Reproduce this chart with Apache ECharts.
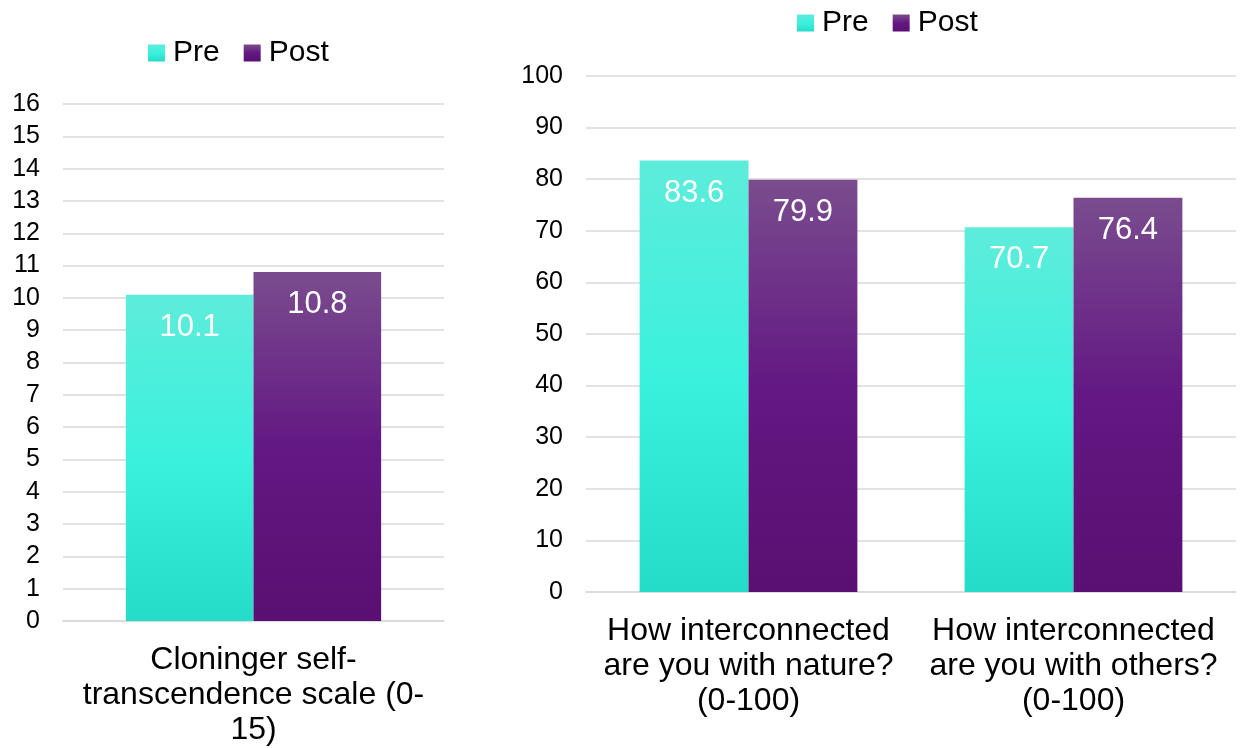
<!DOCTYPE html>
<html>
<head>
<meta charset="utf-8">
<script src="https://cdn.jsdelivr.net/npm/echarts@6/dist/echarts.min.js"></script>
<style>
  html, body { margin: 0; padding: 0; background: #ffffff; }
  #chart { width: 1243px; height: 748px; }
</style>
</head>
<body>
<div id="chart"></div>
<script>
// Left panel: Cloninger self-transcendence scale
const leftCategories = ['Cloninger self-\ntranscendence scale (0-\n15)'];
const leftPre = [10.1];
const leftPost = [10.8];

// Right panel: interconnectedness questions
const rightCategories = [
  'How interconnected\nare you with nature?\n(0-100)',
  'How interconnected\nare you with others?\n(0-100)'
];
const rightPre = [83.6, 70.7];
const rightPost = [79.9, 76.4];

const seriesNames = ['Pre', 'Post'];

const FONT = "'Liberation Sans', Arial, sans-serif";

function grad(stops) {
  return new echarts.graphic.LinearGradient(0, 0, 0, 1,
    stops.map(([o, c]) => ({ offset: o, color: c })));
}
const preFill = () => grad([[0, '#5eecdb'], [0.5, '#3af1dd'], [1, '#25dcc8']]);
const postFill = () => grad([[0, '#7a4c8e'], [0.5, '#631883'], [1, '#5a0f72']]);

const gridLine = { show: true, lineStyle: { color: '#d9d9d9', width: 1.5 } };

function valueAxis(gridIndex, max, interval) {
  return {
    type: 'value', gridIndex, min: 0, max, interval,
    axisLine: { show: false }, axisTick: { show: false },
    splitLine: gridLine,
    axisLabel: { color: '#000', fontSize: 25, fontFamily: FONT, margin: 23 }
  };
}
function catAxis(gridIndex, data) {
  return {
    type: 'category', gridIndex, data,
    axisLine: { show: true, lineStyle: { color: '#d9d9d9', width: 1.5 } },
    axisTick: { show: false },
    axisLabel: { color: '#000', fontSize: 32, fontFamily: FONT, margin: 22,
                 lineHeight: 35, interval: 0, align: 'center' }
  };
}
const valueLabel = {
  show: true, position: 'insideTop', distance: 17,
  color: '#ffffff', fontSize: 31, fontFamily: FONT,
  formatter: p => p.value.toFixed(1)
};
function bar(name, idx, data, fill) {
  return {
    name, type: 'bar', xAxisIndex: idx, yAxisIndex: idx, data,
    barGap: '0%', barCategoryGap: '33%',
    itemStyle: { color: fill() },
    label: valueLabel
  };
}

const legendBase = {
  itemWidth: 17, itemHeight: 17, itemGap: 24,
  icon: 'rect',
  textStyle: { color: '#000', fontSize: 30, fontFamily: FONT, padding: [0, 0, 0, 3] }
};

const chart = echarts.init(document.getElementById('chart'), null, { renderer: 'canvas' });
chart.setOption({
  backgroundColor: '#ffffff',
  animation: false,
  legend: [
    Object.assign({ data: seriesNames, left: 143, top: 33 }, legendBase),
    Object.assign({ data: seriesNames, left: 792, top: 3 }, legendBase)
  ],
  grid: [
    { left: 63, right: 799, top: 104, bottom: 127 },
    { left: 586, right: 7, top: 76, bottom: 156 }
  ],
  xAxis: [catAxis(0, leftCategories), catAxis(1, rightCategories)],
  yAxis: [valueAxis(0, 16, 1), valueAxis(1, 100, 10)],
  series: [
    bar(seriesNames[0], 0, leftPre, preFill),
    bar(seriesNames[1], 0, leftPost, postFill),
    bar(seriesNames[0], 1, rightPre, preFill),
    bar(seriesNames[1], 1, rightPost, postFill)
  ]
});
</script>
</body>
</html>
